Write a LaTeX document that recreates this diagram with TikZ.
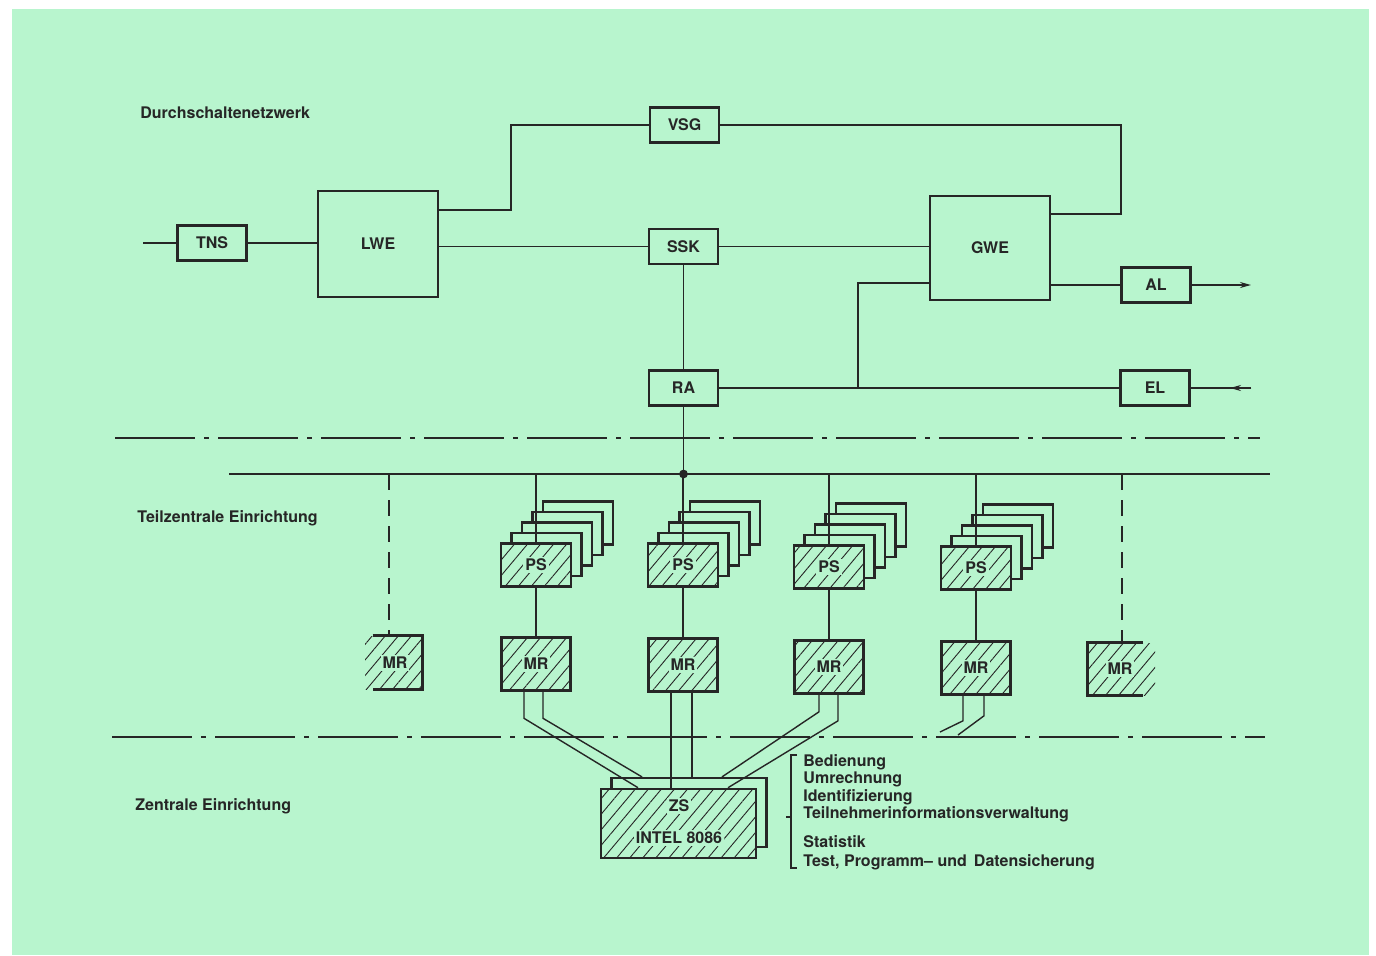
\documentclass[tikz,border=0pt]{standalone}
\usepackage{fontspec}
\setmainfont{TeX Gyre Heros}
\usetikzlibrary{patterns.meta,arrows.meta,calc}
\pgfdeclarelayer{bgl}
\pgfdeclarelayer{back}
\pgfsetlayers{bgl,back,main}
\definecolor{bg}{RGB}{184,245,206}
\definecolor{ink}{RGB}{38,38,38}
\begin{document}
\begin{tikzpicture}[x=0.5pt,y=-0.5pt,
  font=\fontsize{8}{9.6}\selectfont\bfseries,
  every node/.style={text=ink},
  conn/.style={draw=ink,line width=0.7pt},
  box/.style={draw=ink,line width=1.1pt,fill=bg,minimum width=34.5pt,minimum height=17.5pt,inner sep=0pt},
  bigbox/.style={box,minimum width=60pt,minimum height=53pt},
  hbox/.style={draw=ink,line width=1.3pt,inner sep=0pt,preaction={fill=bg},
     pattern={Lines[angle=50,distance=5pt,line width=0.45pt]},pattern color=ink},
  hfill/.style={inner sep=0pt,pattern={Lines[angle=50,distance=5pt,line width=0.45pt]},pattern color=ink},
  htext/.style={label={[fill=bg,inner sep=1pt,text=ink]center:#1}},
  hedge/.style={draw=ink,line width=1.3pt},
  psdim/.style={minimum width=35pt,minimum height=21.5pt},
  mrdim/.style={minimum width=34.5pt,minimum height=26.5pt},
  psback/.style={draw=ink,line width=1.1pt,fill=bg,minimum width=35pt,minimum height=21.5pt,inner sep=0pt},
  dashdot/.style={draw=ink,line width=1pt,dash pattern=on 40pt off 4.5pt on 2.5pt off 4.5pt},
  dline/.style={draw=ink,line width=0.7pt,dash pattern=on 8pt off 5pt},
  arr/.style={-{Stealth[length=5.5pt,width=3pt]}},
  lbl/.style={anchor=base west,inner sep=0pt}
]
\useasboundingbox (0,0) rectangle (1376,955);
\begin{pgfonlayer}{bgl}
  \fill[white] (0,0) rectangle (1376,955);
  \fill[bg] (12,9) rectangle (1369,955);
\end{pgfonlayer}

% ---------- labels of the levels
\node[lbl] (tDurch) at (140,118) {Durchschaltenetzwerk};
\node[lbl] (tTeil) at (137,522) {Teilzentrale Einrichtung};
\node[lbl] (tZentr) at (135,810) {Zentrale Einrichtung};

% ---------- Durchschaltenetzwerk
\node[box] (TNS) at (212,243) {TNS};
\node[bigbox] (LWE) at (378,244) {LWE};
\node[box] (VSG) at (684.5,125) {VSG};
\node[box] (SSK) at (683.5,246.5) {SSK};
\node[bigbox,minimum height=52pt] (GWE) at (990,248) {GWE};
\node[box] (AL) at (1156,285) {AL};
\node[box] (EL) at (1155,388) {EL};
\node[box] (RA) at (683.5,388) {RA};

\coordinate (tnsin) at (143,243);
\coordinate (alout) at (1251,285);
\coordinate (elin) at (1251,388);
\coordinate (j) at (858,388);
\coordinate (busL) at (229,474);
\coordinate (busR) at (1270,474);

\draw[conn] (tnsin) -- (TNS.west);
\draw[conn] (TNS.east) -- (TNS.east -| LWE.west);
\draw[conn] (LWE.east |- 0,210) -- (511,210) |- (VSG.west);
\draw[conn] (VSG.east) -| (1121,214) -- (GWE.east |- 0,214);
\draw[conn] (LWE.east |- SSK.west) -- (SSK.west);
\draw[conn] (SSK.east) -- (SSK.east -| GWE.west);
\draw[conn] (GWE.east |- AL.west) -- (AL.west);
\draw[conn,arr] (AL.east) -- (alout);
\draw[conn] (elin) -- (EL.east);
\draw[conn,arr] (elin) -- ++(-21,0);
\draw[conn] (SSK.south) -- (RA.north);
\draw[conn] (RA.east) -- (EL.west);
\draw[conn] (j) |- (GWE.west |- 0,283);

% ---------- separators
\draw[dashdot] (115,438) -- (1260,438);
\draw[dashdot] (112,737) -- (1265,737);

% ---------- bus
\draw[conn] (busL) -- (busR);
\draw[conn] (RA.south) -- (RA.south |- busL);
\fill[ink] (RA.south |- busL) circle (2.2pt);

% ---------- PS / MR columns
\foreach \i/\cx/\py/\my in {1/536/565/664,2/683/565/665,3/829/567/667,4/976/568/668}{
  \node[hbox,psdim,htext=PS] (PS\i) at (\cx,\py) {};
  \node[hbox,mrdim,htext=MR] (MR\i) at (\cx,\my) {};
  \draw[conn] (PS\i) -- (MR\i);
  \begin{pgfonlayer}{back}
    \foreach \k in {4,3,2,1}
      \node[psback] (PS\i-\k) at ($(PS\i)+(10.5*\k,-10.5*\k)$) {};
    \draw[conn] (PS\i.north |- busL) -- (PS\i.north);
  \end{pgfonlayer}
}

% ---------- partial MR boxes
\node[hfill,minimum width=28.5pt,minimum height=26.5pt] (MR0) at (393.5,662.5) {};
\node[fill=bg,inner sep=1pt] (MR0t) at (395,663) {MR};
\draw[hedge] ([xshift=4pt]MR0.north west) -- (MR0.north east) -- (MR0.south east) -- ([xshift=4pt]MR0.south west);
\draw[dline] (389,0 |- busL) -- (389,0 |- MR0.north);

\node[hfill,minimum width=33.5pt,minimum height=26pt] (MR5) at (1121.5,669) {};
\node[fill=bg,inner sep=1pt] (MR5t) at (1120,669) {MR};
\draw[hedge] ([xshift=-6pt]MR5.north east) -- (MR5.north west) -- (MR5.south west) -- ([xshift=-6pt]MR5.south east);
\draw[dline] (1122,0 |- busL) -- (1122,0 |- MR5.north);

% ---------- Zentralsystem
\node[hbox,minimum width=77.5pt,minimum height=34.5pt] (ZS) at (678.5,823.5) {};
\node[fill=bg,inner sep=1pt] (ZSt1) at (679,806) {ZS};
\node[fill=bg,inner sep=1pt] (ZSt2) at (679,838) {INTEL 8086};
\begin{pgfonlayer}{back}
  \node[psback,minimum width=77.5pt,minimum height=34.5pt] (ZSb) at ($(ZS)+(10.5,-11)$) {};
  % column 1
  \draw[conn] ([xshift=-6pt]MR1.south) -- ++(0,26.5) -- (638,0 |- ZS.north);
  \draw[conn] ([xshift=3.5pt]MR1.south) -- ++(0,26.5) -- (642,0 |- ZSb.north);
  % column 2
  \draw[conn] ([xshift=-6pt]MR2.south) -- ([xshift=-6pt]MR2.south |- ZS.north);
  \draw[conn] ([xshift=4.5pt]MR2.south) -- ([xshift=4.5pt]MR2.south |- ZSb.north);
  % column 3
  \draw[conn] ([xshift=-5pt]MR3.south) -- ++(0,17) -- (722,0 |- ZSb.north);
  \draw[conn] ([xshift=4.5pt]MR3.south) -- ++(0,26) -- (728,0 |- ZS.north);
\end{pgfonlayer}
% column 4, free ends
\coordinate (c4a) at (940,732);
\coordinate (c4b) at (958,735);
\draw[conn] ([xshift=-6.5pt]MR4.south) -- ++(0,25) -- (c4a);
\draw[conn] ([xshift=4pt]MR4.south) -- ++(0,20) -- (c4b);

% ---------- task list with bracket
\coordinate (brT) at (791,755);
\coordinate (brB) at (791,868);
\draw[conn] ([xshift=3pt]brT) -- (brT) -- (brB) -- ([xshift=3pt]brB);
\draw[conn] (791,817) -- (786,817);
\node[lbl] (t1) at (803,766) {Bedienung};
\node[lbl] (t2) at (803,783) {Umrechnung};
\node[lbl] (t3) at (803,801) {Identifizierung};
\node[lbl] (t4) at (803,818) {Teilnehmerinformationsverwaltung};
\node[lbl] (t5) at (803,847) {Statistik};
\node[lbl] (t6) at (803,866) {Test, Programm-- und\, Datensicherung};
\end{tikzpicture}
\end{document}
